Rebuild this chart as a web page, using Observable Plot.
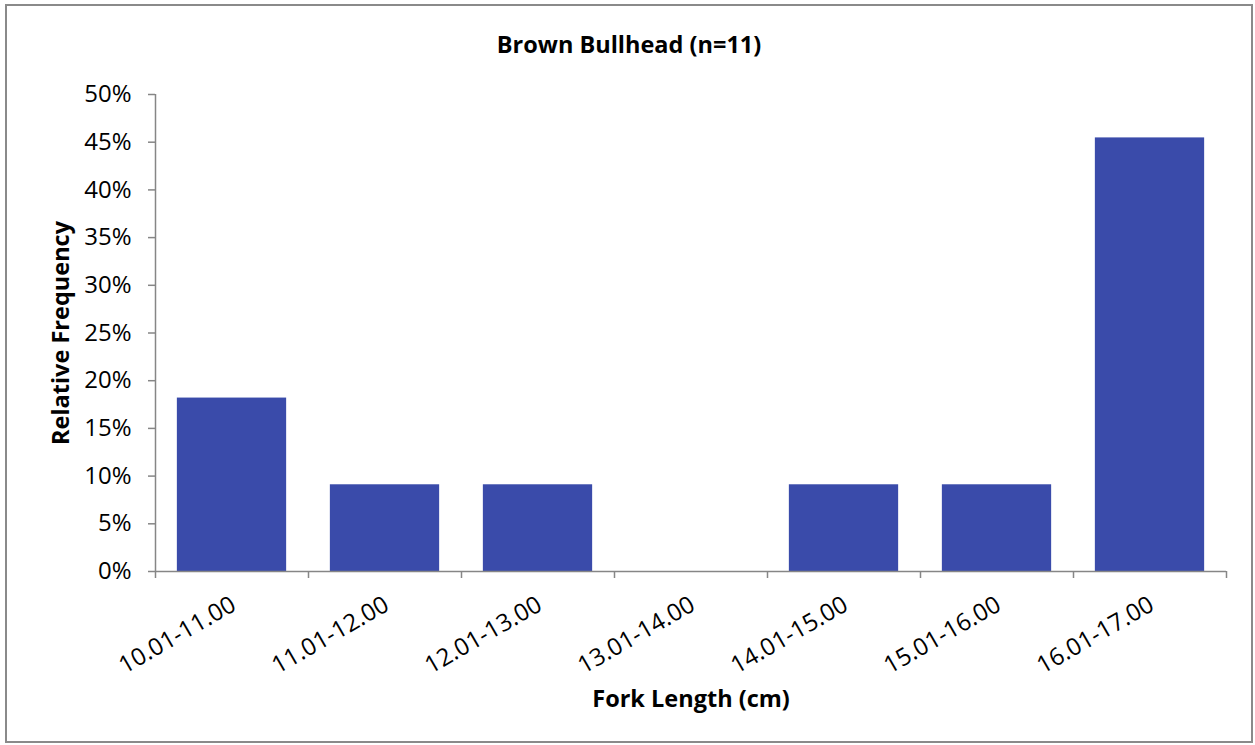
<!DOCTYPE html>
<html>
<head>
<meta charset="utf-8">
<script src="https://cdn.jsdelivr.net/npm/d3@7"></script>
<script src="https://cdn.jsdelivr.net/npm/@observablehq/plot@0.6"></script>
<style>
  html, body { margin: 0; padding: 0; background: #fff; }
  #wrap {
    position: absolute; left: 5px; top: 4px; width: 1248px; height: 739px;
    border: 2px solid #8a8a8a; box-sizing: border-box; background: #fff;
    font-family: "Open Sans", sans-serif;
  }
  #title {
    height: 60px; box-sizing: border-box; padding-top: 24px;
    text-align: center; font-weight: bold; font-size: 23.5px; line-height: 28px; color: #000;
  }
  #chart svg { display: block; }
</style>
</head>
<body>
<div id="wrap">
  <div id="title">Brown Bullhead (n=11)</div>
  <div id="chart"></div>
</div>
<script>
const categories = ["10.01-11.00", "11.01-12.00", "12.01-13.00", "13.01-14.00", "14.01-15.00", "15.01-16.00", "16.01-17.00"];
const values = [0.1818, 0.0909, 0.0909, 0, 0.0909, 0.0909, 0.4545];
const yTicks = [0, 0.05, 0.10, 0.15, 0.20, 0.25, 0.30, 0.35, 0.40, 0.45, 0.50];
const xLabel = "Fork Length (cm)";
const yLabel = "Relative Frequency";

const data = categories.map((c, i) => ({c, i, v: values[i]}));
const boundaries = d3.range(categories.length + 1);
const gap = 0.2 / 1.4;
const axisColor = "#868686";

const chart = Plot.plot({
  width: 1244,
  height: 675,
  marginLeft: 148,
  marginRight: 25,
  marginTop: 28,
  marginBottom: 170,
  style: {fontFamily: "Open Sans, sans-serif", fontSize: "24px", color: "#000", background: "#fff"},
  x: {domain: [0, categories.length], axis: null},
  y: {domain: [0, 0.5], axis: null},
  marks: [
    Plot.rectY(data, {x1: d => d.i + gap, x2: d => d.i + 1 - gap, y1: () => 0, y2: "v", fill: "#3A4BAA"}),
    Plot.ruleY([0], {stroke: axisColor, strokeWidth: 1.5}),
    Plot.ruleX([0], {stroke: axisColor, strokeWidth: 1.5}),
    Plot.axisY({ticks: yTicks, tickFormat: d3.format(".0%"), tickSize: 7, tickPadding: 17,
      stroke: axisColor, strokeWidth: 1.5, fill: "#000", fontSize: 24, label: null}),
    Plot.axisX({ticks: boundaries, tickFormat: () => "", tickSize: 7, stroke: axisColor, strokeWidth: 1.5, label: null}),
    Plot.text(data, {x: d => d.i + 0.5, text: "c", frameAnchor: "bottom", rotate: -30,
      textAnchor: "end", lineAnchor: "top", dx: -3, dy: 23, fontSize: 24, fill: "#000"}),
    Plot.text([yLabel], {frameAnchor: "left", rotate: -90, dx: -94, textAnchor: "middle", lineAnchor: "middle",
      fontWeight: "bold", fontSize: 23.5, fill: "#000"}),
    Plot.text([xLabel], {frameAnchor: "bottom", dy: 128, textAnchor: "middle", lineAnchor: "middle",
      fontWeight: "bold", fontSize: 23.5, fill: "#000"})
  ]
});
document.getElementById("chart").appendChild(chart);
</script>
</body>
</html>
